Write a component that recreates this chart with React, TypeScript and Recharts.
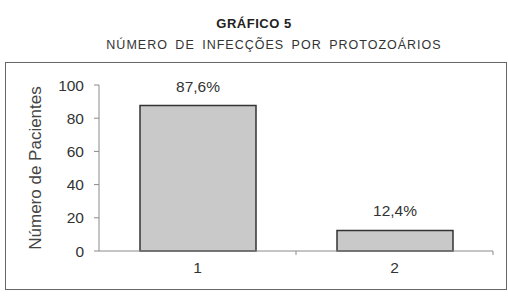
import { Bar, BarChart, LabelList, XAxis, YAxis, Label } from "recharts";

const categories = ["1", "2"];
const values = [87.6, 12.4];
const valueLabels = ["87,6%", "12,4%"];
const yTicks = [0, 20, 40, 60, 80, 100];

const data = categories.map((c, i) => ({ cat: c, value: values[i], label: valueLabels[i] }));

const font = '"Liberation Sans", Arial, sans-serif';
const ink = "#333";
const axisGray = "#8a8a8a";

// plot area: x 99..493, y 85..251
const plotLeft = 99;
const plotRight = 493;
const step = (plotRight - plotLeft) / categories.length;

function CatTick(props: any) {
  const { x, y, payload } = props;
  const edge = x + step / 2;
  return (
    <g>
      <line x1={edge} y1={y} x2={edge} y2={y + 4} stroke={axisGray} />
      <text x={x} y={y + 22} textAnchor="middle" fontSize={15.5} fill={ink} fontFamily={font}>
        {payload.value}
      </text>
    </g>
  );
}

export default function App() {
  return (
    <div style={{ position: "absolute", left: 0, top: 0, width: 508, height: 302, background: "#fff", fontFamily: font }}>
      <div style={{ position: "absolute", left: 0, width: 508, top: 16, textAlign: "center", fontSize: 13, fontWeight: "bold", color: "#222", letterSpacing: 0.5 }}>
        GRÁFICO 5
      </div>
      <div style={{ position: "absolute", left: 40, width: 468, top: 38, textAlign: "center", fontSize: 12.5, color: "#333", letterSpacing: 1, wordSpacing: 3 }}>
        NÚMERO DE INFECÇÕES POR PROTOZOÁRIOS
      </div>
      <div style={{ position: "absolute", left: 5, top: 62, width: 500, height: 226, border: "1px solid #666" }} />
      <div style={{ position: "absolute", left: 0, top: 0 }}>
        <BarChart
          width={508}
          height={302}
          data={data}
          margin={{ top: 85, right: 508 - plotRight, left: plotLeft - 60, bottom: 302 - 251 - 30 }}
        >
          <XAxis
            dataKey="cat"
            height={30}
            tickSize={0}
            tickMargin={0}
            tickLine={false}
            stroke={axisGray}
            tick={<CatTick />}
            interval={0}
          />
          <YAxis
            width={60}
            domain={[0, 100]}
            ticks={yTicks}
            interval={0}
            tickSize={5}
            tickMargin={10}
            stroke={axisGray}
            tick={{ fontSize: 15.5, fill: ink, fontFamily: font }}
          >
            <Label
              content={(p: any) => {
                const vb = p.viewBox || {};
                const cy = (vb.y ?? 85) + (vb.height ?? 166) / 2;
                return (
                  <text
                    x={0}
                    y={0}
                    transform={`translate(41, ${cy}) rotate(-90)`}
                    textAnchor="middle"
                    fontSize={17}
                    fill="#444"
                    fontFamily={font}
                  >
                    Número de Pacientes
                  </text>
                );
              }}
            />
          </YAxis>
          <Bar dataKey="value" barSize={116} fill="#c9c9c9" stroke="#333" strokeWidth={1.5} isAnimationActive={false}>
            <LabelList dataKey="label" position="top" offset={14} fontSize={15.5} fill={ink} fontFamily={font} />
          </Bar>
        </BarChart>
      </div>
    </div>
  );
}
